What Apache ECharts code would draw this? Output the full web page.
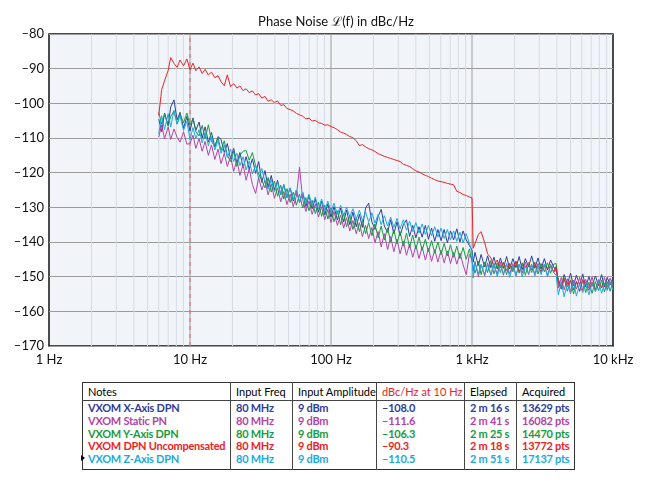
<!DOCTYPE html>
<html>
<head>
<meta charset="utf-8">
<script src="https://cdn.jsdelivr.net/npm/echarts@6/dist/echarts.min.js"></script>
<style>
  html, body { margin: 0; padding: 0; background: #fff; }
  #chart { position: absolute; left: 0; top: 0; width: 650px; height: 482px; }
  #tbl { position: absolute; left: 82px; top: 382px; width: 492px; border-collapse: collapse;
         table-layout: fixed; font-family: Lato, "Noto Sans", sans-serif; font-size: 11px;
         border: 1.5px solid #333; background: #fff; }
  #tbl th { font-weight: normal; text-align: left; height: 17px; padding: 0 0 0 5px;
            border-bottom: 1px solid #444; border-left: 1px solid #444; white-space: nowrap; color: #000; }
  #tbl td { font-weight: bold; text-align: left; padding: 0 0 0 5px; line-height: 12.8px; height: 12.8px;
            border-left: 1px solid #444; white-space: nowrap; letter-spacing: -0.25px; }
  #tbl tbody tr:first-child td { padding-top: 1px; }
  #tbl tbody tr:last-child td { padding-bottom: 3px; }
  #mark { position: absolute; left: 81px; top: 455px; width: 0; height: 0;
          border-left: 4px solid #000; border-top: 3px solid transparent; border-bottom: 3px solid transparent; }
</style>
</head>
<body>
<div id="chart"></div>
<table id="tbl"><colgroup id="cols"></colgroup><thead><tr id="hdr"></tr></thead><tbody id="rows"></tbody></table>
<div id="mark"></div>
<script>
// ---- data ----
const freqs = [
  6, 6.3, 6.6, 7, 7.3, 7.7, 8.1, 8.5, 9, 9.5,
  10, 10.5, 11, 11.6, 12.2, 12.8, 13.5, 14.2, 15, 15.8,
  16.6, 17.5, 18.4, 19.4, 20.4, 21.5, 22.6, 23.8, 25, 26.3,
  27.7, 29.2, 30.7, 32.3, 34, 35.8, 37.7, 39.7, 41.8, 44,
  46.3, 48.7, 51.3, 54, 56.8, 59.8, 63, 66.3, 69.8, 73.5,
  77.4, 81.5, 85.8, 90.3, 95, 100, 105, 111, 117, 123,
  129, 136, 143, 151, 159, 167, 176, 185, 195, 205,
  216, 227, 239, 252, 265, 279, 294, 309, 326, 343,
  361, 380, 400, 421, 443, 467, 491, 517, 544, 573,
  603, 635, 669, 704, 741, 780, 821, 865, 910, 958,
  1000, 1020, 1050, 1110, 1160, 1230, 1290, 1360, 1430, 1510,
  1590, 1670, 1760, 1850, 1950, 2050, 2160, 2270, 2390, 2520,
  2650, 2790, 2940, 3090, 3260, 3430, 3610, 3800, 3950, 4100,
  4300, 4500, 4750, 5000, 5250, 5500, 5800, 6100, 6400, 6750,
  7100, 7500, 7900, 8300, 8700, 9100, 9550, 10000
];

const xAxisDpn = [
  -104.5,-108.2,-102.8,-106.4,-101.0,-99.0,-104.8,-102.6,-107.2,-103.8,
  -108.0,-104.2,-107.8,-105.4,-110.0,-106.8,-111.2,-108.4,-112.6,-109.6,
  -110.4,-114.2,-111.6,-116.0,-113.0,-117.2,-114.2,-118.6,-115.4,-119.0,
  -116.0,-120.2,-116.8,-122.8,-119.4,-124.2,-120.8,-125.0,-122.2,-126.4,
  -123.4,-127.2,-124.4,-128.2,-125.0,-128.6,-125.8,-129.8,-126.6,-130.4,
  -127.6,-131.4,-128.2,-132.2,-129.0,-132.8,-129.8,-133.6,-130.2,-134.2,
  -130.8,-135.0,-131.4,-135.6,-132.0,-135.8,-130.2,-128.8,-134.2,-136.4,
  -132.6,-130.6,-135.4,-137.2,-133.6,-137.6,-134.2,-138.2,-135.0,-133.6,
  -138.4,-135.2,-138.8,-135.6,-138.6,-135.2,-139.2,-136.0,-139.8,-136.4,
  -139.6,-136.4,-140.2,-136.8,-139.4,-136.2,-140.0,-136.8,-139.4,-141.0,
  -142.4,-145.8,-143.0,-146.8,-143.6,-147.2,-144.0,-147.4,-144.4,-147.8,
  -144.6,-147.6,-144.2,-147.8,-144.8,-147.4,-144.2,-148.0,-144.8,-147.2,
  -144.0,-147.6,-144.6,-147.8,-144.8,-148.0,-145.2,-147.2,-148.4,-150.8,
  -153.0,-149.4,-152.2,-149.0,-152.6,-149.6,-152.4,-149.2,-153.0,-150.0,
  -152.8,-149.8,-152.6,-149.4,-153.0,-150.2,-152.4,-150.4
];

const staticPn = [
  -109.8,-106.2,-110.2,-106.8,-110.4,-107.4,-109.8,-111.2,-108.2,-111.8,
  -111.6,-109.2,-113.0,-110.2,-113.8,-111.0,-115.0,-112.0,-116.2,-113.2,
  -117.4,-114.4,-118.2,-115.4,-119.6,-116.4,-120.8,-117.6,-122.2,-118.8,
  -123.4,-126.0,-121.4,-125.0,-122.2,-126.4,-123.2,-127.4,-124.4,-128.4,
  -125.4,-129.2,-126.2,-129.8,-126.8,-118.4,-127.8,-131.2,-128.2,-132.0,
  -129.0,-132.8,-129.8,-133.6,-130.6,-134.4,-131.2,-135.2,-132.2,-136.0,
  -133.0,-136.8,-133.8,-137.6,-134.4,-138.4,-135.2,-139.0,-135.8,-140.2,
  -137.0,-141.4,-137.6,-142.2,-138.4,-142.8,-139.2,-143.4,-139.8,-143.8,
  -140.6,-144.4,-141.0,-144.8,-141.4,-145.2,-141.8,-145.6,-142.2,-145.8,
  -142.4,-146.0,-142.6,-146.2,-143.0,-146.4,-143.2,-146.6,-149.4,-143.6,
  -145.2,-148.4,-145.6,-150.0,-146.6,-149.4,-146.0,-149.6,-146.8,-149.2,
  -145.8,-149.6,-146.4,-149.2,-146.2,-149.8,-146.4,-149.0,-145.8,-149.4,
  -146.6,-149.2,-146.2,-148.8,-146.8,-149.6,-146.4,-148.8,-147.0,-153.2,
  -150.2,-153.8,-150.6,-154.4,-151.0,-153.6,-150.2,-154.0,-150.8,-153.4,
  -150.0,-153.8,-150.8,-153.2,-150.2,-153.0,-150.4,-152.8
];

const yAxisDpn = [
  -102.6,-106.0,-103.0,-106.6,-103.8,-102.2,-106.0,-103.2,-105.6,-102.8,
  -106.3,-104.4,-108.2,-109.4,-106.4,-110.2,-106.2,-111.0,-112.4,-109.8,
  -113.6,-110.8,-115.0,-116.8,-113.8,-118.2,-115.0,-113.8,-113.6,-116.4,
  -114.2,-118.0,-120.4,-122.2,-124.4,-121.4,-125.6,-122.4,-126.8,-123.6,
  -127.6,-124.6,-128.6,-125.6,-129.4,-126.2,-130.2,-127.2,-131.0,-128.0,
  -131.8,-128.6,-132.6,-129.4,-133.4,-130.2,-134.2,-131.0,-135.0,-131.8,
  -135.6,-132.4,-136.4,-133.0,-137.0,-133.8,-137.6,-134.4,-138.2,-134.8,
  -138.8,-135.4,-139.4,-136.0,-140.0,-136.4,-140.6,-137.0,-141.2,-137.4,
  -141.6,-138.0,-142.0,-138.6,-142.4,-139.2,-142.8,-139.6,-143.2,-140.0,
  -143.6,-140.4,-144.0,-140.8,-144.4,-141.2,-144.8,-141.6,-145.0,-142.0,
  -145.4,-147.2,-149.0,-145.6,-149.4,-145.8,-148.8,-145.4,-149.2,-146.0,
  -148.8,-145.8,-149.4,-146.2,-148.6,-145.6,-149.0,-146.0,-149.6,-146.4,
  -148.8,-145.8,-149.2,-146.2,-148.6,-146.0,-149.0,-146.4,-146.2,-151.8,
  -153.6,-150.4,-154.2,-151.0,-155.0,-151.4,-154.2,-150.8,-154.6,-151.6,
  -154.8,-151.4,-154.0,-151.0,-154.4,-151.4,-154.2,-151.2
];

const dpnUncompensated = [
  -103.5,-96.0,-93.5,-90.5,-86.8,-88.5,-89.6,-87.5,-89.2,-87.2,
  -90.3,-88.4,-90.6,-89.5,-91.4,-90.2,-91.8,-91.0,-92.6,-92.0,
  -93.8,-94.9,-91.8,-95.2,-94.3,-95.6,-95.0,-96.3,-95.8,-96.9,
  -96.4,-97.6,-97.2,-98.5,-98.0,-99.4,-99.0,-99.8,-99.3,-100.6,
  -100.4,-101.5,-101.8,-102.2,-102.9,-103.3,-103.7,-104.5,-104.3,-105.1,
  -104.9,-105.6,-105.8,-106.3,-106.2,-106.7,-107.0,-107.6,-108.3,-108.6,
  -109.0,-109.6,-109.9,-110.8,-112.2,-111.9,-112.6,-113.1,-113.4,-113.9,
  -114.5,-114.9,-115.3,-115.6,-115.9,-116.2,-116.5,-116.8,-117.6,-117.9,
  -118.2,-118.9,-119.5,-119.8,-120.3,-120.8,-121.1,-121.6,-122.0,-122.4,
  -122.6,-122.8,-123.1,-123.3,-123.5,-125.4,-125.7,-126.3,-126.6,-127.0,
  -127.3,-141.8,-140.5,-137.8,-137.0,-140.2,-143.4,-144.6,-146.8,-145.2,
  -147.5,-146.0,-148.2,-146.3,-147.9,-145.6,-148.5,-146.7,-147.4,-145.9,
  -148.0,-146.4,-147.6,-148.4,-146.5,-147.8,-146.9,-148.6,-147.2,-151.8,
  -153.5,-150.6,-152.9,-150.9,-153.8,-151.4,-154.2,-151.0,-152.7,-153.9,
  -151.6,-154.0,-152.3,-153.2,-151.8,-153.6,-152.0,-152.8
];

const zAxisDpn = [
  -108.8,-103.6,-107.6,-103.0,-106.8,-102.0,-106.0,-103.6,-107.8,-105.2,
  -110.5,-107.0,-110.2,-107.6,-111.4,-108.4,-112.2,-109.6,-113.4,-110.8,
  -114.4,-112.0,-115.6,-113.2,-116.8,-114.4,-118.0,-115.4,-119.2,-116.6,
  -120.4,-117.8,-121.6,-118.8,-122.6,-124.8,-122.0,-125.6,-122.8,-126.4,
  -123.6,-127.2,-124.4,-127.8,-125.0,-128.4,-125.6,-129.0,-126.2,-129.6,
  -127.0,-130.4,-127.6,-131.0,-128.2,-131.4,-128.8,-132.0,-129.4,-132.4,
  -130.0,-132.8,-130.4,-133.4,-130.8,-133.8,-131.4,-134.2,-131.6,-134.6,
  -132.0,-135.0,-132.4,-135.4,-132.8,-135.8,-133.2,-136.2,-133.6,-136.6,
  -134.0,-137.0,-134.4,-137.4,-134.8,-137.8,-135.2,-138.2,-135.6,-138.6,
  -136.0,-139.0,-136.4,-139.4,-136.8,-139.8,-137.2,-140.2,-137.6,-140.4,
  -143.0,-150.4,-146.0,-149.2,-146.4,-149.8,-146.4,-149.4,-146.0,-150.0,
  -146.6,-149.2,-146.2,-150.2,-146.8,-149.6,-146.4,-150.0,-147.0,-149.2,
  -146.4,-149.8,-146.8,-149.4,-146.4,-150.0,-147.0,-148.8,-149.6,-155.2,
  -151.4,-155.8,-152.0,-155.0,-151.4,-155.6,-152.2,-154.6,-151.6,-155.2,
  -151.8,-154.4,-151.2,-154.8,-152.0,-154.0,-151.4,-153.8
];

const seriesNames = ['VXOM X-Axis DPN', 'VXOM Static PN', 'VXOM Y-Axis DPN', 'VXOM DPN Uncompensated', 'VXOM Z-Axis DPN'];
const seriesColors = ['#2f3d9c', '#b343a8', '#169c3e', '#ee2224', '#1ba9e1'];
const seriesValues = [xAxisDpn, staticPn, yAxisDpn, dpnUncompensated, zAxisDpn];

const xTickValues = [1, 10, 100, 1000, 10000];
const xTickLabels = ['1 Hz', '10 Hz', '100 Hz', '1 kHz', '10 kHz'];
const majorGridFreqs = [10, 100, 1000];
const minorGridFreqs = [2,3,4,5,6,7,8,9, 20,30,40,50,60,70,80,90, 200,300,400,500,600,700,800,900, 2000,3000,4000,5000,6000,7000,8000,9000];
const markerFreq = 10;
const yMin = -170, yMax = -80, yStep = 10;

// table data
const tableHeaders = ['Notes', 'Input Freq', 'Input Amplitude', 'dBc/Hz at 10 Hz', 'Elapsed', 'Acquired'];
const inputFreqs = ['80 MHz', '80 MHz', '80 MHz', '80 MHz', '80 MHz'];
const inputAmps = ['9 dBm', '9 dBm', '9 dBm', '9 dBm', '9 dBm'];
const dbcAt10 = ['–108.0', '–111.6', '–106.3', '–90.3', '–110.5'];
const elapsed = ['2 m 16 s', '2 m 41 s', '2 m 25 s', '2 m 18 s', '2 m 51 s'];
const acquired = ['13629 pts', '16082 pts', '14470 pts', '13772 pts', '17137 pts'];

// ---- chart ----
const FONT = 'Lato, "Noto Sans", sans-serif';
const chart = echarts.init(document.getElementById('chart'), null, { renderer: 'canvas' });

const series = [];
function vLine(f, color, z, type) {
  series.push({
    type: 'line', data: [[f, yMin], [f, yMax]], showSymbol: false, symbol: 'none', silent: true, z: z,
    lineStyle: { color: color, width: 1, type: type || 'solid' }, tooltip: { show: false }
  });
}
minorGridFreqs.forEach(f => vLine(f, '#d6dbe3', 1));
majorGridFreqs.forEach(f => vLine(f, '#9c9c9c', 1));
vLine(markerFreq, '#e0646c', 2, [4, 4]);

seriesValues.forEach((vals, k) => {
  series.push({
    type: 'line', name: seriesNames[k], z: 3,
    data: freqs.map((f, i) => [f, vals[i]]),
    showSymbol: false, symbol: 'none',
    lineStyle: { color: seriesColors[k], width: 1 },
    itemStyle: { color: seriesColors[k] }
  });
});

chart.setOption({
  animation: false,
  backgroundColor: '#ffffff',
  title: {
    text: 'Phase Noise ℒ(f) in dBc/Hz',
    left: 331, top: 10, textAlign: 'center',
    textStyle: { fontFamily: FONT, fontSize: 13, fontWeight: 'normal', color: '#111' }
  },
  grid: {
    left: 49, right: 37, top: 34, bottom: 136, show: true,
    backgroundColor: '#f1f5fa', borderColor: '#111', borderWidth: 1.5
  },
  xAxis: {
    type: 'log', logBase: 10, min: xTickValues[0], max: xTickValues[xTickValues.length - 1],
    axisLine: { show: false }, axisTick: { show: false },
    minorTick: { show: false }, minorSplitLine: { show: false },
    splitLine: { show: false },
    axisLabel: {
      fontFamily: FONT, fontSize: 13, color: '#111', margin: 7,
      formatter: v => {
        const i = xTickValues.findIndex(t => Math.abs(t - v) < t * 1e-6);
        return i >= 0 ? xTickLabels[i] : '';
      }
    }
  },
  yAxis: {
    type: 'value', min: yMin, max: yMax, interval: yStep,
    axisLine: { show: false }, axisTick: { show: false },
    splitLine: { show: true, lineStyle: { color: '#9c9c9c', width: 1 } },
    axisLabel: {
      fontFamily: FONT, fontSize: 13, color: '#111', margin: 5,
      formatter: v => (v < 0 ? '–' : '') + Math.abs(v)
    }
  },
  series: series
});

// ---- table ----
const colWidths = [148, 62, 84, 88, 52, 58];
document.getElementById('cols').innerHTML = colWidths.map(w => '<col style="width:' + w + 'px">').join('');
document.getElementById('hdr').innerHTML = tableHeaders.map((h, i) =>
  '<th' + (i === 3 ? ' style="color:#ee2224"' : '') + (i === 0 ? ' style="border-left:none"' : '') + '>' + h + '</th>').join('');
let rowsHtml = '';
for (let r = 0; r < seriesNames.length; r++) {
  const c = seriesColors[r];
  const cells = [seriesNames[r], inputFreqs[r], inputAmps[r], dbcAt10[r], elapsed[r], acquired[r]];
  rowsHtml += '<tr>' + cells.map((t, i) =>
    '<td style="color:' + c + (i === 0 ? ';border-left:none' : '') + '">' + t + '</td>').join('') + '</tr>';
}
document.getElementById('rows').innerHTML = rowsHtml;
</script>
</body>
</html>
